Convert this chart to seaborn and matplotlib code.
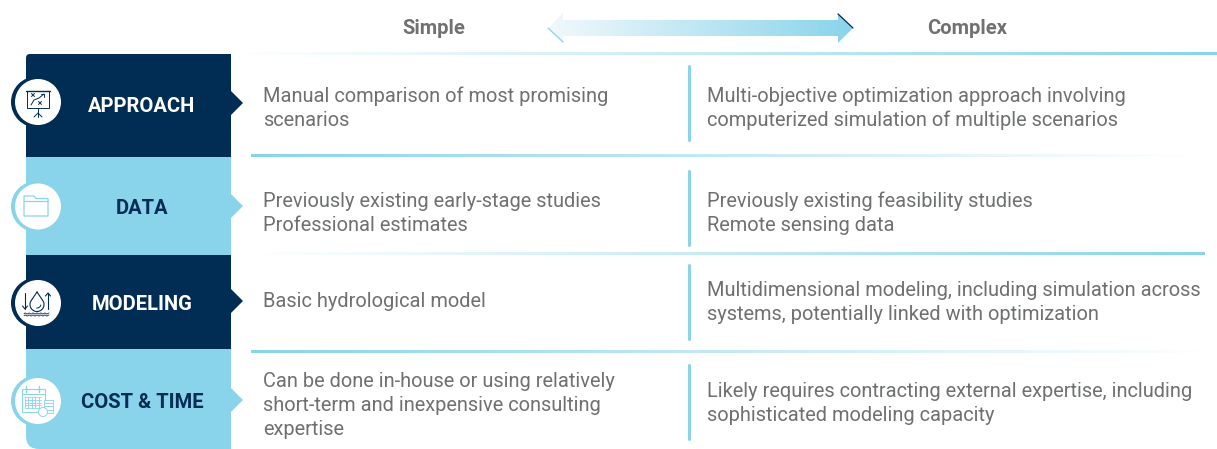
import numpy as np
import matplotlib
matplotlib.use("Agg")
import matplotlib.pyplot as plt
from matplotlib.colors import LinearSegmentedColormap
from matplotlib.patches import Circle, FancyBboxPatch, Polygon, Rectangle, Arc
import seaborn as sns

# Content
ROW_LABELS = ["APPROACH", "DATA", "MODELING", "COST & TIME"]
SIMPLE_TEXT = [
    ["Manual comparison of most promising", "scenarios"],
    ["Previously existing early-stage studies", "Professional estimates"],
    ["Basic hydrological model"],
    ["Can be done in-house or using relatively", "short-term and inexpensive consulting", "expertise"],
]
COMPLEX_TEXT = [
    ["Multi-objective optimization approach involving", "computerized simulation of multiple scenarios"],
    ["Previously existing feasibility studies", "Remote sensing data"],
    ["Multidimensional modeling, including simulation across", "systems, potentially linked with optimization"],
    ["Likely requires contracting external expertise, including", "sophisticated modeling capacity"],
]

# Layout, in image pixels
ROW_TOPS = [54, 157, 255, 349]
ROW_BOTTOMS = [157, 255, 349, 449]
LABEL_Y = [106, 208, 304, 403]
NOTCH_Y = [103, 206, 301, 400]
ICON_Y = [102, 206.5, 303, 401]
SIMPLE_Y = [[96.5, 120.5], [201.5, 225.5], [301.5], [381.5, 405.5, 429.5]]
COMPLEX_Y = [[96.5, 120.5], [201.5, 225.5], [290.5, 314.5], [391.5, 415.5]]
DIVIDER_SPANS = [(66, 140), (171, 245), (265, 339), (365, 439)]

NAVY = "#012d55"
SKY = "#8ad4eb"
GREY = "#6f7072"
HEAD_GREY = "#707173"

sns.set_theme(style="white")
plt.rcParams['font.family'] = ['Roboto', 'DejaVu Sans']

fade_right = LinearSegmentedColormap.from_list("fade", sns.blend_palette(["#ffffff", SKY], 32))
arrow_fade = LinearSegmentedColormap.from_list("arrow", sns.blend_palette(["#f1f9fc", SKY], 32))


def gradient(ax, x0, x1, y0, y1, cmap=fade_right, reverse=False, clip=None, zorder=2):
    ramp = np.linspace(0, 1, 256).reshape(1, -1)
    if reverse:
        ramp = ramp[:, ::-1]
    im = ax.imshow(ramp, extent=(x0, x1, y1, y0), cmap=cmap, aspect='auto',
                   interpolation='bilinear', zorder=zorder)
    if clip is not None:
        im.set_clip_path(clip)
    return im


def draw_panels(ax):
    for i, (top, bottom) in enumerate(zip(ROW_TOPS, ROW_BOTTOMS)):
        color = NAVY if i % 2 == 0 else SKY
        ax.add_patch(Rectangle((26, top), 205, bottom - top, fc=color, ec='none', zorder=3))
        mid = NOTCH_Y[i]
        ax.add_patch(Polygon([(231, mid - 12), (243, mid), (231, mid + 12)], fc=color, ec='none', zorder=3))
        ax.text(142, LABEL_Y[i], ROW_LABELS[i], color="white" if i % 2 == 0 else NAVY, fontsize=14.5,
                fontweight='bold', ha='center', va='center', zorder=6)
    # rounded outer corners
    ax.add_patch(Rectangle((26, 54), 6, 6, fc="white", ec='none', zorder=3.1))
    ax.add_patch(FancyBboxPatch((26, 54), 30, 30, boxstyle="round,pad=0,rounding_size=4",
                                fc=NAVY, ec='none', zorder=3.2))
    ax.add_patch(Rectangle((26, 429), 20, 20, fc="white", ec='none', zorder=3.1))
    ax.add_patch(FancyBboxPatch((26, 405), 40, 44, boxstyle="round,pad=0,rounding_size=13",
                                fc=SKY, ec='none', zorder=3.2))


def draw_badges(ax):
    for i, y in enumerate(ICON_Y):
        color = NAVY if i % 2 == 0 else SKY
        ax.add_patch(Circle((36.5, y), 25.5, fc=color, ec='none', zorder=4))
        ax.add_patch(Circle((38, y), 23, fc="white", ec='none', zorder=5))


def stroke(ax, xs, ys, color, lw=0.7):
    ax.plot(xs, ys, color=color, lw=lw, solid_capstyle='round', zorder=6)


def icon_board(ax, cx, cy):
    stroke(ax, [cx - 12, cx + 12], [cy - 11, cy - 11], NAVY, 1.0)
    ax.add_patch(Rectangle((cx - 11, cy - 11), 22, 17, fc='none', ec=NAVY, lw=0.7, zorder=6))
    stroke(ax, [cx, cx], [cy + 6, cy + 15], NAVY)
    stroke(ax, [cx - 4, cx, cx + 4], [cy + 15, cy + 11, cy + 15], NAVY)
    stroke(ax, [cx - 7, cx - 4, cx + 1, cx + 6], [cy + 3, cy - 2, cy - 4, cy - 8], NAVY)
    stroke(ax, [cx + 3, cx + 6, cx + 6], [cy - 8, cy - 8, cy - 5], NAVY)
    for dx, dy in [(-5, -7), (2, 1)]:
        stroke(ax, [cx + dx - 1.5, cx + dx + 1.5], [cy + dy - 1.5, cy + dy + 1.5], NAVY)
        stroke(ax, [cx + dx - 1.5, cx + dx + 1.5], [cy + dy + 1.5, cy + dy - 1.5], NAVY)


def icon_folder(ax, cx, cy):
    pts = [(cx - 14, cy - 10.5), (cx - 4, cy - 10.5), (cx - 2, cy - 8), (cx + 10, cy - 8),
           (cx + 10, cy + 9.5), (cx - 14, cy + 9.5)]
    ax.add_patch(Polygon(pts, fc='none', ec=SKY, lw=0.9, zorder=6))
    stroke(ax, [cx - 14, cx + 10], [cy - 5.5, cy - 5.5], SKY, 0.9)


def icon_water(ax, cx, cy):
    # teardrop: lower circle plus a pointed top
    ang = np.radians(np.linspace(-35, 215, 50))
    xs = cx - 1 + 7 * np.cos(ang)
    ys = cy + 1.5 + 7 * np.sin(ang)
    xs = np.concatenate([[cx - 1], xs, [cx - 1]])
    ys = np.concatenate([[cy - 11], ys, [cy - 11]])
    ax.plot(xs, ys, color=NAVY, lw=0.8, zorder=6)
    ax.add_patch(Arc((cx - 1, cy + 1), 8, 8, theta1=10, theta2=100, ec=NAVY, lw=0.7, zorder=6))
    stroke(ax, [cx - 13, cx - 13], [cy - 10, cy + 6], NAVY, 0.8)
    stroke(ax, [cx - 15.5, cx - 13, cx - 10.5], [cy + 3, cy + 6, cy + 3], NAVY, 0.8)
    stroke(ax, [cx + 10, cx + 10], [cy - 10, cy + 6], NAVY, 0.8)
    stroke(ax, [cx + 7.5, cx + 10, cx + 12.5], [cy - 7, cy - 10, cy - 7], NAVY, 0.8)
    wx = np.linspace(cx - 14, cx + 11, 50)
    for off in (10.5, 12.5):
        ax.plot(wx, cy + off + 0.5 * np.sin((wx - cx) * 1.6), color=NAVY, lw=0.6, zorder=6)


def icon_calendar(ax, cx, cy):
    ax.add_patch(Rectangle((cx - 15, cy - 12), 23, 23, fc='none', ec=SKY, lw=0.8, zorder=6))
    stroke(ax, [cx - 15, cx + 8], [cy - 7, cy - 7], SKY)
    for dx in (-11, 2):
        stroke(ax, [cx + dx, cx + dx], [cy - 15, cy - 9], SKY, 1.0)
    for gx in np.arange(cx - 12, cx + 5, 3.4):
        stroke(ax, [gx, gx], [cy - 4, cy + 7], SKY, 0.6)
    for gy in np.arange(cy - 4, cy + 8, 2.8):
        stroke(ax, [cx - 12, cx + 4], [gy, gy], SKY, 0.6)
    for k in range(4):
        ax.add_patch(Rectangle((cx + 7, cy - 1 + k * 3.2), 9, 3.2, fc="white", ec=SKY, lw=0.6, zorder=6.1))
    ax.add_patch(Circle((cx + 6, cy + 11), 4.5, fc="white", ec=SKY, lw=0.7, zorder=6.2))


def draw_dividers(ax):
    # horizontal fading rules
    gradient(ax, 232, 1217, 52.5, 55.5)
    gradient(ax, 251, 1190, 154.5, 157.5, reverse=True)
    gradient(ax, 251, 1205, 252.5, 255.5)
    gradient(ax, 251, 1210, 350.5, 353.5, reverse=True)
    for top, bottom in DIVIDER_SPANS:
        ax.plot([689, 689], [top, bottom], color=SKY, lw=2.2, solid_capstyle='round', zorder=2)


def draw_header(ax):
    ax.text(433.5, 28.5, "Simple", color=HEAD_GREY, fontsize=14.5, fontweight='bold', ha='center', va='center')
    ax.text(967.5, 28.5, "Complex", color=HEAD_GREY, fontsize=14.5, fontweight='bold', ha='center', va='center')
    shape = Polygon([(548, 28), (563, 13), (563, 20), (838, 20), (838, 13), (853, 28),
                     (838, 43), (838, 36), (563, 36), (563, 43)], closed=True, fc='none', ec='none')
    ax.add_patch(shape)
    gradient(ax, 548, 853, 13, 43, cmap=arrow_fade, clip=shape)
    ax.plot([838, 853], [14, 28], color=NAVY, lw=0.9, zorder=3)
    ax.plot([548, 563], [28, 42], color=SKY, lw=0.9, zorder=3)


def draw_text(ax):
    for lines, ys in zip(SIMPLE_TEXT, SIMPLE_Y):
        for line, y in zip(lines, ys):
            ax.text(263, y, line, color=GREY, fontsize=14.4, ha='left', va='center')
    for lines, ys in zip(COMPLEX_TEXT, COMPLEX_Y):
        for line, y in zip(lines, ys):
            ax.text(707, y, line, color=GREY, fontsize=14.4, ha='left', va='center')


def main():
    fig = plt.figure(figsize=(12.17, 4.49), dpi=100, facecolor="white")
    ax = fig.add_axes([0, 0, 1, 1])
    ax.set_axis_off()

    draw_dividers(ax)
    draw_header(ax)
    draw_panels(ax)
    draw_badges(ax)
    icon_board(ax, 38, ICON_Y[0])
    icon_folder(ax, 38, ICON_Y[1])
    icon_water(ax, 38, ICON_Y[2])
    icon_calendar(ax, 37, ICON_Y[3])
    draw_text(ax)

    ax.set_xlim(0, 1217)
    ax.set_ylim(449, 0)
    fig.savefig("out.png", dpi=100)


if __name__ == "__main__":
    main()
